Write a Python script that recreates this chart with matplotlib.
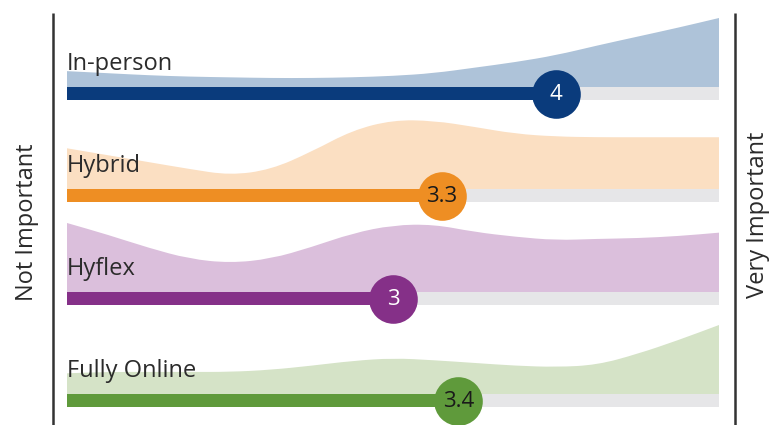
import numpy as np
import matplotlib
matplotlib.use("Agg")
import matplotlib.pyplot as plt
from matplotlib.path import Path
from matplotlib.patches import PathPatch

# importance scale 1 (not important) .. 5 (very important)
modes = ["In-person", "Hybrid", "Hyflex", "Fully Online"]
means = [4.0, 3.3, 3.0, 3.4]
mean_labels = ["4", "3.3", "3", "3.4"]

# response distribution, every 0.25 of the scale (peak = 1)
grid = [1.0, 1.25, 1.5, 1.75, 2.0, 2.25, 2.5, 2.75, 3.0,
        3.25, 3.5, 3.75, 4.0, 4.25, 4.5, 4.75, 5.0]
dens_inperson = [0.23, 0.20, 0.17, 0.15, 0.14, 0.13, 0.13, 0.14, 0.16,
                 0.20, 0.28, 0.36, 0.46, 0.60, 0.73, 0.86, 1.00]
dens_hybrid = [0.59, 0.49, 0.39, 0.29, 0.20, 0.28, 0.54, 0.85, 1.00,
               0.99, 0.90, 0.80, 0.76, 0.75, 0.75, 0.75, 0.75]
dens_hyflex = [1.00, 0.83, 0.64, 0.48, 0.42, 0.48, 0.65, 0.85, 0.97,
               0.98, 0.87, 0.80, 0.75, 0.77, 0.78, 0.81, 0.86]
dens_online = [0.30, 0.32, 0.32, 0.32, 0.32, 0.35, 0.41, 0.48, 0.52,
               0.49, 0.45, 0.41, 0.39, 0.42, 0.58, 0.78, 1.00]
densities = [dens_inperson, dens_hybrid, dens_hyflex, dens_online]

dark = ["#0a3b7c", "#ee8e23", "#853088", "#5f9a3b"]
light = ["#aec3d9", "#fbdfc2", "#dbbfdc", "#d5e3c7"]
num_color = ["white", "#1a1a1a", "white", "#1a1a1a"]

W, H = 774, 425
PX = 163.0            # pixels per scale point
X0 = 67               # pixel of scale value 1
bar_top = [87, 189, 292, 394]
BAR_H = 13
PEAK = 69


def smooth_area(xs, ys, base):
    """closed area under a quadratic-bezier curve through the points' midpoints"""
    pts = list(zip(xs, ys))
    verts = [(xs[0], base), pts[0]]
    codes = [Path.MOVETO, Path.LINETO]
    mid = lambda a, b: ((a[0] + b[0]) / 2, (a[1] + b[1]) / 2)
    verts.append(mid(pts[0], pts[1])); codes.append(Path.LINETO)
    for k in range(1, len(pts) - 1):
        verts += [pts[k], mid(pts[k], pts[k + 1])]
        codes += [Path.CURVE3, Path.CURVE3]
    verts += [pts[-1], (xs[-1], base), (xs[0], base)]
    codes += [Path.LINETO, Path.LINETO, Path.CLOSEPOLY]
    return Path(verts, codes)


fig = plt.figure(figsize=(W / 100, H / 100), dpi=100)
ax = fig.add_axes([0, 0, 1, 1])
ax.set_xlim(1 - X0 / PX, 1 + (W - X0) / PX)
ax.set_ylim(H, 0)
ax.axis("off")

font = "Open Sans"
for i, name in enumerate(modes):
    top = bar_top[i]
    d = np.array(densities[i])
    ax.add_patch(PathPatch(smooth_area(grid, list(top - d * PEAK), top),
                           facecolor=light[i], lw=0, zorder=1))
    ax.fill_between([1, 5], top, top + BAR_H, color="#e6e6e8", lw=0, zorder=2)
    ax.fill_between([1, means[i]], top, top + BAR_H, color=dark[i], lw=0, zorder=3)
    ax.plot([means[i]], [top + BAR_H / 2], "o", ms=35, color=dark[i], mew=0, zorder=4)
    ax.text(means[i], top + BAR_H / 2 + 1, mean_labels[i], ha="center", va="center",
            fontsize=16, color=num_color[i], family=font, zorder=5)
    ax.text(1, top - 17, name, ha="left", va="baseline", fontsize=17,
            color="#2b2b2b", family=font, zorder=5)

# side frame lines and end labels
for xp in (53, 735):
    xv = 1 + (xp - X0) / PX
    ax.plot([xv, xv], [13, H], color="#333333", lw=1.8, solid_capstyle="butt")
ax.text(1 + (27 - X0) / PX, 222, "Not Important", rotation=90, ha="center", va="center",
        fontsize=17, color="#2b2b2b", family=font)
ax.text(1 + (758 - X0) / PX, 215, "Very Important", rotation=90, ha="center", va="center",
        fontsize=17, color="#2b2b2b", family=font)

fig.savefig("out.png", dpi=100)
